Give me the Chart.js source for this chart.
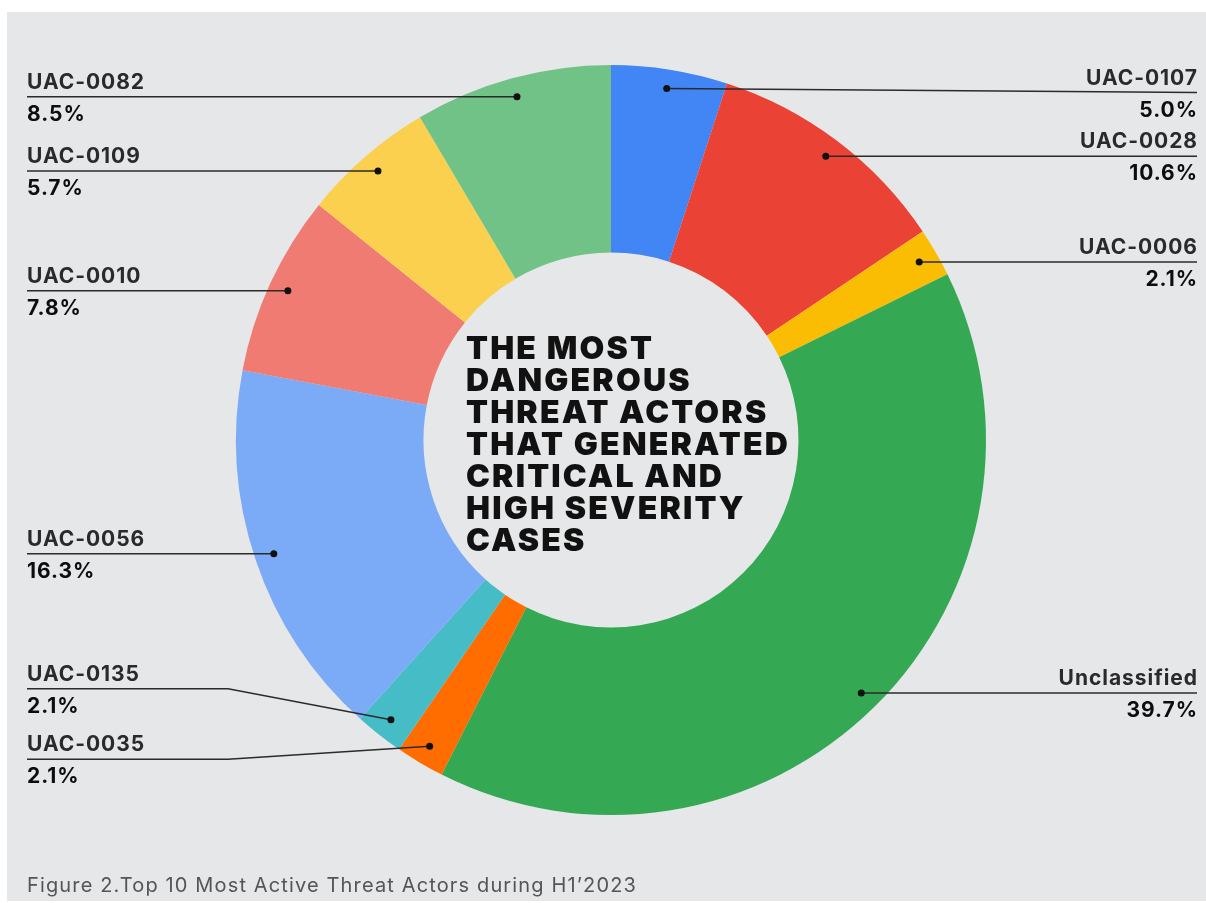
<!DOCTYPE html>
<html>
<head>
<meta charset="utf-8">
<script src="https://cdn.jsdelivr.net/npm/chart.js@4.4.0/dist/chart.umd.min.js"></script>
<style>
  html, body { margin: 0; padding: 0; background: #ffffff; }
  #wrap { position: relative; width: 1206px; height: 903px; }
</style>
</head>
<body>
<div id="wrap"><canvas id="c"></canvas></div>
<script>
// ---- data ----
const categories = ['UAC-0107', 'UAC-0028', 'UAC-0006', 'Unclassified', 'UAC-0035', 'UAC-0135', 'UAC-0056', 'UAC-0010', 'UAC-0109', 'UAC-0082'];
const shares = [5.0, 10.6, 2.1, 39.7, 2.1, 2.1, 16.3, 7.8, 5.7, 8.5];
const sliceColors = ['#4285F4', '#EA4335', '#FBBC04', '#34A853', '#FF6D01', '#46BDC6', '#7BAAF7', '#F07B72', '#FCD04F', '#71C287'];
const centerTitle = ['THE MOST', 'DANGEROUS', 'THREAT ACTORS', 'THAT GENERATED', 'CRITICAL AND', 'HIGH SEVERITY', 'CASES'];
const caption = 'Figure 2.Top 10 Most Active Threat Actors during H1\u20192023';

// ---- label layout (presentation only) ----
const labelLayout = {
  'UAC-0107': { side: 'right', dy: 4 },
  'UAC-0135': { side: 'left', dy: -31, elbowX: 228 },
  'UAC-0035': { side: 'left', dy: 13, elbowX: 228 }
};

const BG = '#e6e7e9';
const LEFT_X = 27, RIGHT_X = 1197;

function fitSpacing(ctx, font, text, target) {
  ctx.font = font;
  try { ctx.letterSpacing = '0px'; } catch (e) {}
  const w = ctx.measureText(text).width;
  return Math.max(0, (target - w) / text.length);
}

const decorPlugin = {
  id: 'decor',
  beforeDraw(chart) {
    const ctx = chart.ctx;
    ctx.save();
    ctx.fillStyle = '#ffffff';
    ctx.fillRect(0, 0, chart.width, chart.height);
    ctx.fillStyle = BG;
    ctx.fillRect(7, 12, chart.width - 7, 889);
    ctx.restore();
  },
  afterDatasetsDraw(chart) {
    const ctx = chart.ctx;
    const meta = chart.getDatasetMeta(0);
    ctx.save();
    // center title
    const titleFont = '900 32px Inter';
    const tSp = fitSpacing(ctx, titleFont, 'THAT GENERATED', 324);
    ctx.fillStyle = '#111111';
    ctx.font = titleFont;
    ctx.textBaseline = 'alphabetic';
    ctx.textAlign = 'left';
    try { ctx.letterSpacing = tSp + 'px'; } catch (e) {}
    const cx0 = meta.data[0].x, cy0 = meta.data[0].y;
    centerTitle.forEach((line, i) => {
      ctx.fillText(line, cx0 - 145, cy0 - 81 + i * 32);
    });

    // leader lines + labels
    const labFont = '700 21px Inter';
    const lSp = fitSpacing(ctx, labFont, 'UAC-0082', 118);
    meta.data.forEach((arc, i) => {
      const p = arc.getProps(['x', 'y', 'startAngle', 'endAngle', 'outerRadius'], true);
      const mid = (p.startAngle + p.endAngle) / 2;
      const r = p.outerRadius * 0.949;
      const dx = p.x + Math.cos(mid) * r;
      const dy = p.y + Math.sin(mid) * r;
      const name = categories[i];
      const lay = labelLayout[name] || {};
      const side = lay.side || (Math.cos(mid) >= 0 ? 'right' : 'left');
      const lineY = dy + (lay.dy || 0);
      const endX = side === 'right' ? RIGHT_X : LEFT_X;

      ctx.strokeStyle = '#2b2b2b';
      ctx.lineWidth = 1.5;
      ctx.beginPath();
      ctx.moveTo(dx, dy);
      if (lay.elbowX !== undefined) ctx.lineTo(lay.elbowX, lineY);
      ctx.lineTo(endX, lineY);
      ctx.stroke();

      ctx.fillStyle = '#111111';
      ctx.beginPath();
      ctx.arc(dx, dy, 3.5, 0, Math.PI * 2);
      ctx.fill();

      ctx.textAlign = side === 'right' ? 'right' : 'left';
      ctx.textBaseline = 'alphabetic';
      ctx.font = labFont;
      try { ctx.letterSpacing = lSp + 'px'; } catch (e) {}
      const tx = side === 'right' ? endX + lSp : endX;
      ctx.fillStyle = '#2a2a2a';
      ctx.fillText(name, tx, lineY - 8);
      ctx.fillStyle = '#0d0d0d';
      ctx.fillText(shares[i].toFixed(1) + '%', tx, lineY + 24);
    });

    // caption
    const capFont = '400 20px Inter';
    const cSp = fitSpacing(ctx, capFont, caption, 610);
    ctx.textAlign = 'left';
    ctx.font = capFont;
    try { ctx.letterSpacing = cSp + 'px'; } catch (e) {}
    ctx.fillStyle = '#555555';
    ctx.fillText(caption, 27, 892);
    ctx.restore();
  }
};

new Chart(document.getElementById('c'), {
  type: 'doughnut',
  data: {
    labels: categories,
    datasets: [{
      data: shares,
      backgroundColor: sliceColors,
      borderWidth: 0,
      hoverOffset: 0
    }]
  },
  options: {
    responsive: true,
    maintainAspectRatio: false,
    animation: false,
    cutout: '50%',
    layout: { padding: { left: 236, right: 220, top: 65, bottom: 88 } },
    plugins: { legend: { display: false }, tooltip: { enabled: false } },
    events: []
  },
  plugins: [decorPlugin]
});
</script>
</body>
</html>
